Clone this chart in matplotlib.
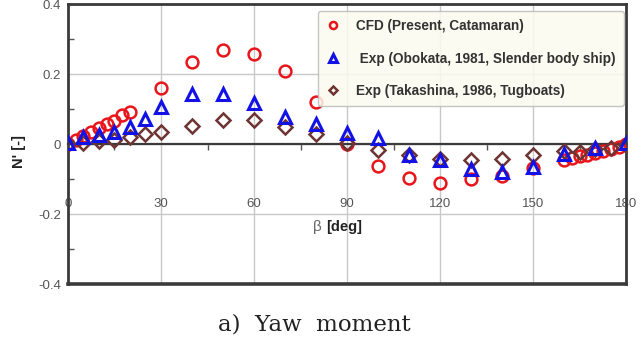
import matplotlib
matplotlib.use("Agg")
import matplotlib.pyplot as plt
from matplotlib.ticker import MultipleLocator, FixedLocator

# ---- data ----
beta_cfd = [0, 2.5, 5, 7.5, 10, 12.5, 15, 17.5, 20, 30, 40, 50, 60, 70, 80, 90,
            100, 110, 120, 130, 140, 150, 160, 162.5, 165, 167.5, 170, 172.5,
            175, 177.5, 180]
n_cfd = [0.0, 0.011, 0.023, 0.034, 0.045, 0.057, 0.066, 0.083, 0.091, 0.16,
         0.234, 0.269, 0.257, 0.209, 0.12, 0.0, -0.063, -0.097, -0.11, -0.1,
         -0.09, -0.068, -0.045, -0.04, -0.035, -0.03, -0.025, -0.02, -0.013,
         -0.007, 0.0]

beta_obo = [0, 5, 10, 15, 20, 25, 30, 40, 50, 60, 70, 80, 90, 100, 110, 120,
            130, 140, 150, 160, 170, 180]
n_obo = [0.003, 0.02, 0.026, 0.035, 0.05, 0.073, 0.105, 0.143, 0.142, 0.116,
         0.078, 0.058, 0.032, 0.018, -0.03, -0.046, -0.07, -0.08, -0.065,
         -0.027, -0.01, 0.003]

beta_tak = [0, 5, 10, 15, 20, 25, 30, 40, 50, 60, 70, 80, 90, 100, 110, 120,
            130, 140, 150, 160, 165, 170, 175, 180]
n_tak = [0.0, 0.004, 0.008, 0.013, 0.02, 0.029, 0.035, 0.051, 0.07, 0.07,
         0.048, 0.029, 0.003, -0.017, -0.03, -0.042, -0.045, -0.043, -0.03,
         -0.02, -0.022, -0.015, -0.012, -0.003]

labels = ["CFD (Present, Catamaran)",
          " Exp (Obokata, 1981, Slender body ship)",
          "Exp (Takashina, 1986, Tugboats)"]
xticks = [0, 30, 60, 90, 120, 150, 180]
yticks = [-0.4, -0.2, 0, 0.2, 0.4]
ytick_labels = ["-0.4", "-0.2", "0", "0.2", "0.4"]

# ---- figure ----
plt.rcParams['font.family'] = ['Liberation Sans', 'DejaVu Sans']
fig = plt.figure(figsize=(6.41, 3.37), dpi=100)
ax = fig.add_axes([0.106, 0.157, 0.871, 0.831])

frame_c = '#3a3a3a'
grid_c = '#c8c8c8'

ax.set_xlim(0, 180)
ax.set_ylim(-0.4, 0.4)

ax.plot(beta_cfd, n_cfd, 'o', ls='none', ms=8.5, mfc='none', mec='#e8151b',
        mew=1.8, label=labels[0], zorder=3)
ax.plot(beta_tak, n_tak, 'D', ls='none', ms=7.5, mfc='none', mec='#6e3434',
        mew=1.8, label=labels[2], zorder=4)
ax.plot(beta_obo, n_obo, '^', ls='none', ms=8.5, mfc='none', mec='#1212e6',
        mew=2.2, label=labels[1], zorder=5)

ax.set_xticks(xticks)
ax.set_yticks(yticks)
ax.set_yticklabels(ytick_labels)
ax.xaxis.set_minor_locator(FixedLocator([15, 45, 75, 105, 135, 165]))
ax.yaxis.set_minor_locator(FixedLocator([-0.3, -0.1, 0.1, 0.3]))
ax.grid(True, which='major', color=grid_c, lw=1.0, zorder=0)
ax.set_axisbelow(True)

# x axis through zero
ax.spines['bottom'].set_position(('data', 0))
for s in ax.spines.values():
    s.set_color(frame_c)
    s.set_linewidth(2.0)
ax.spines['bottom'].set_linewidth(1.6)
ax.axhline(-0.4, color=frame_c, lw=2.6, clip_on=False, zorder=6)

ax.tick_params(axis='x', which='major', length=0, pad=39, labelsize=9.5,
               labelcolor='#555555')
ax.tick_params(axis='x', which='minor', direction='out', length=4, width=1,
               color='#555555')
ax.tick_params(axis='y', which='major', length=0, pad=5, labelsize=9.5,
               labelcolor='#555555')
ax.tick_params(axis='y', which='minor', direction='in', length=4, width=1,
               color='#555555')

ax.text(0.455, 0.204, "β", transform=ax.transAxes, fontsize=11,
        color='#666666', ha='right', va='center')
ax.text(0.462, 0.204, "[deg]", transform=ax.transAxes, fontsize=10.5,
        fontweight='bold', color='#222222', ha='left', va='center')
fig.text(0.030, 0.55, "N' [-]", rotation=90, fontsize=10.5, fontweight='bold',
         color='#222222', ha='center', va='center')

handles, labs = ax.get_legend_handles_labels()
order = [0, 2, 1]
leg = ax.legend([handles[i] for i in order], [labs[i] for i in order],
                loc='upper right', bbox_to_anchor=(1.0, 0.985),
                fontsize=9.8, labelspacing=1.35, handlelength=1.0,
                handletextpad=1.2, borderpad=0.6, borderaxespad=0.2,
                markerscale=0.6,
                fancybox=True, framealpha=0.85, facecolor='#fbfbef',
                edgecolor='#bbbbbb')
for t in leg.get_texts():
    t.set_fontweight('bold')
    t.set_color('#333333')
leg.set_zorder(7)

fig.text(0.491, 0.036, "a)  Yaw  moment", fontsize=16.5, family='DejaVu Serif',
         ha='center', va='center', color='#222222')

fig.savefig("out.png", dpi=100)
